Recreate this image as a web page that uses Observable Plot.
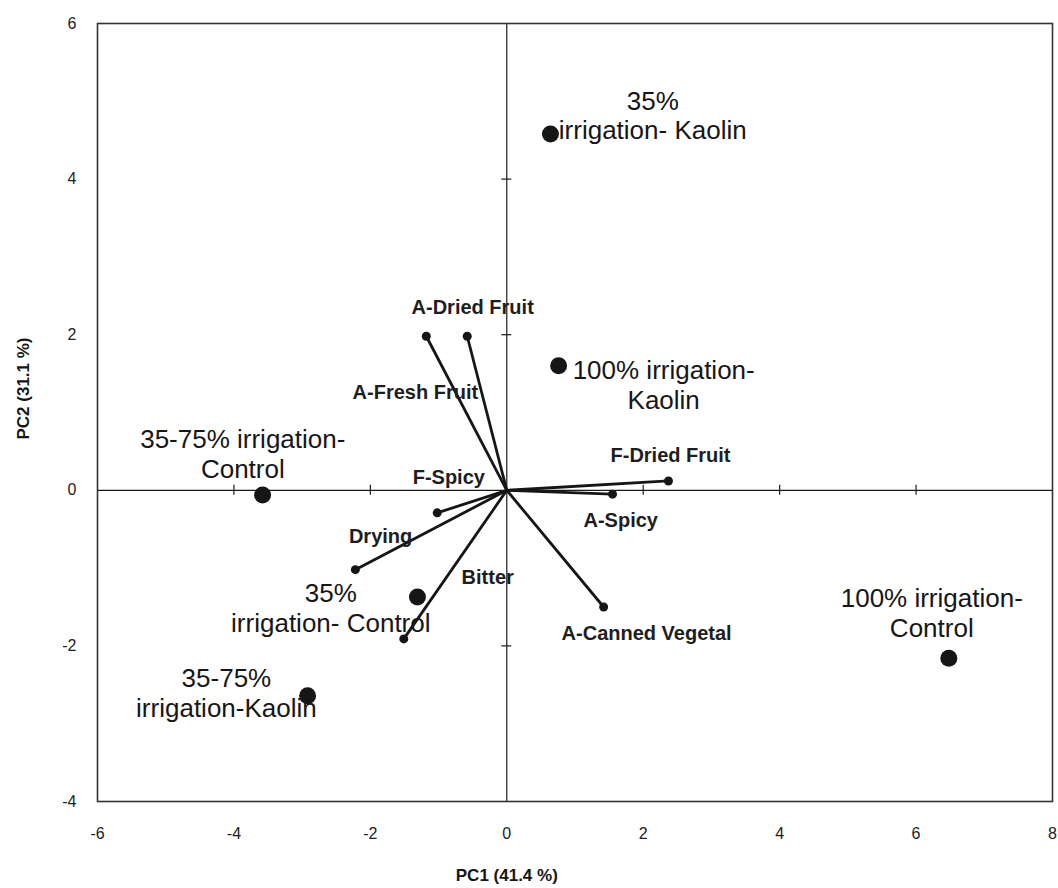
<!DOCTYPE html>
<html>
<head>
<meta charset="utf-8">
<script src="https://cdn.jsdelivr.net/npm/d3@7"></script>
<script src="https://cdn.jsdelivr.net/npm/@observablehq/plot@0.6"></script>
<style>
  html, body { margin: 0; padding: 0; background: #ffffff; }
  #chart svg { display: block; }
</style>
</head>
<body>
<div id="chart"></div>
<script>
// ---- Data ----
// Treatment scores
const sampleLabels = [
  "35%\nirrigation- Kaolin",
  "100% irrigation-\nKaolin",
  "35-75% irrigation-\nControl",
  "35%\nirrigation- Control",
  "35-75%\nirrigation-Kaolin",
  "100% irrigation-\nControl"
];
const sampleX = [0.64, 0.76, -3.58, -1.31, -2.92, 6.48];
const sampleY = [4.58, 1.60, -0.06, -1.37, -2.64, -2.16];
// Label anchors (data units, baseline of last line)
const sampleLabelX = [2.14, 2.30, -3.87, -2.58, -4.11, 6.23];
const sampleLabelY = [4.51, 1.045, 0.16, -1.82, -2.91, -1.89];

// Attribute loadings (vectors from the origin)
const attrLabels = ["A-Dried Fruit", "A-Fresh Fruit", "F-Dried Fruit", "A-Spicy", "A-Canned Vegetal", "F-Spicy", "Drying", "Bitter"];
const attrX = [-0.58, -1.18, 2.37, 1.55, 1.42, -1.02, -2.22, -1.51];
const attrY = [1.98, 1.98, 0.12, -0.05, -1.50, -0.29, -1.02, -1.91];
const attrLabelX = [-0.50, -1.34, 2.40, 1.67, 2.05, -0.85, -1.85, -0.28];
const attrLabelY = [2.26, 1.17, 0.36, -0.47, -1.93, 0.08, -0.68, -1.20];

// Axes
const xTicks = [-6, -4, -2, 0, 2, 4, 6, 8];
const yTicks = [-4, -2, 0, 2, 4, 6];
const xCrossTicks = [-4, -2, 2, 4, 6];
const yCrossTicks = [-2, 2, 4];
const xTitle = "PC1 (41.4 %)";
const yTitle = "PC2 (31.1 %)";

// ---- Build tables ----
const samples = sampleLabels.map((label, i) => ({
  label, x: sampleX[i], y: sampleY[i], lx: sampleLabelX[i], ly: sampleLabelY[i]
}));
const attrs = attrLabels.map((label, i) => ({
  label, x: attrX[i], y: attrY[i], lx: attrLabelX[i], ly: attrLabelY[i]
}));

const FONT = "'Liberation Sans', Arial, Helvetica, sans-serif";
const INK = "#161616";
const fmt = d => String(d); // hyphen-minus, no decimals, as in the reference

const chart = Plot.plot({
  width: 1058,
  height: 888,
  marginTop: 23,
  marginBottom: 87,
  marginLeft: 97,
  marginRight: 6,
  style: { fontFamily: FONT, background: "#ffffff", color: INK },
  x: { domain: [-6, 8] },
  y: { domain: [-4, 6] },
  marks: [
    Plot.axisX(xTicks, { tickSize: 0, tickPadding: 26, fontSize: 16, label: null, fill: "#222", tickFormat: fmt }),
    Plot.axisY(yTicks, { tickSize: 0, tickPadding: 21, fontSize: 16, label: null, fill: "#222", tickFormat: fmt }),
    Plot.ruleY([0], { stroke: "#1a1a1a", strokeWidth: 1.2 }),
    Plot.ruleX([0], { stroke: "#1a1a1a", strokeWidth: 1.2 }),
    Plot.ruleX(xCrossTicks, { x: d => d, y1: 0, y2: 0, insetTop: -5, insetBottom: -5, stroke: "#1a1a1a", strokeWidth: 1.2 }),
    Plot.ruleY(yCrossTicks, { y: d => d, x1: 0, x2: 0, insetLeft: -5, insetRight: -5, stroke: "#1a1a1a", strokeWidth: 1.2 }),
    Plot.frame({ stroke: "#333", strokeWidth: 1.6 }),
    // loading vectors
    Plot.link(attrs, { x1: 0, y1: 0, x2: "x", y2: "y", stroke: INK, strokeWidth: 2.8 }),
    Plot.dot(attrs, { x: "x", y: "y", r: 4.5, fill: INK, stroke: "none" }),
    Plot.text(attrs, {
      x: "lx", y: "ly", text: "label", fontSize: 20, fontWeight: "bold",
      textAnchor: "middle", lineAnchor: "bottom", fill: "#1e1e1e"
    }),
    // treatment scores
    Plot.dot(samples, { x: "x", y: "y", r: 8.5, fill: INK, stroke: "none" }),
    Plot.text(samples, {
      x: "lx", y: "ly", text: "label", fontSize: 26, lineHeight: 1.15,
      textAnchor: "middle", lineAnchor: "bottom", fill: INK
    }),
    // axis titles
    Plot.text([xTitle], { x: 0, frameAnchor: "bottom", dy: 79, fontSize: 17, fontWeight: "bold", fill: INK, textAnchor: "middle" }),
    Plot.text([yTitle], { frameAnchor: "left", dx: -74, dy: -24, rotate: -90, fontSize: 17, fontWeight: "bold", fill: INK, textAnchor: "middle" })
  ]
});

document.getElementById("chart").appendChild(chart);
</script>
</body>
</html>
